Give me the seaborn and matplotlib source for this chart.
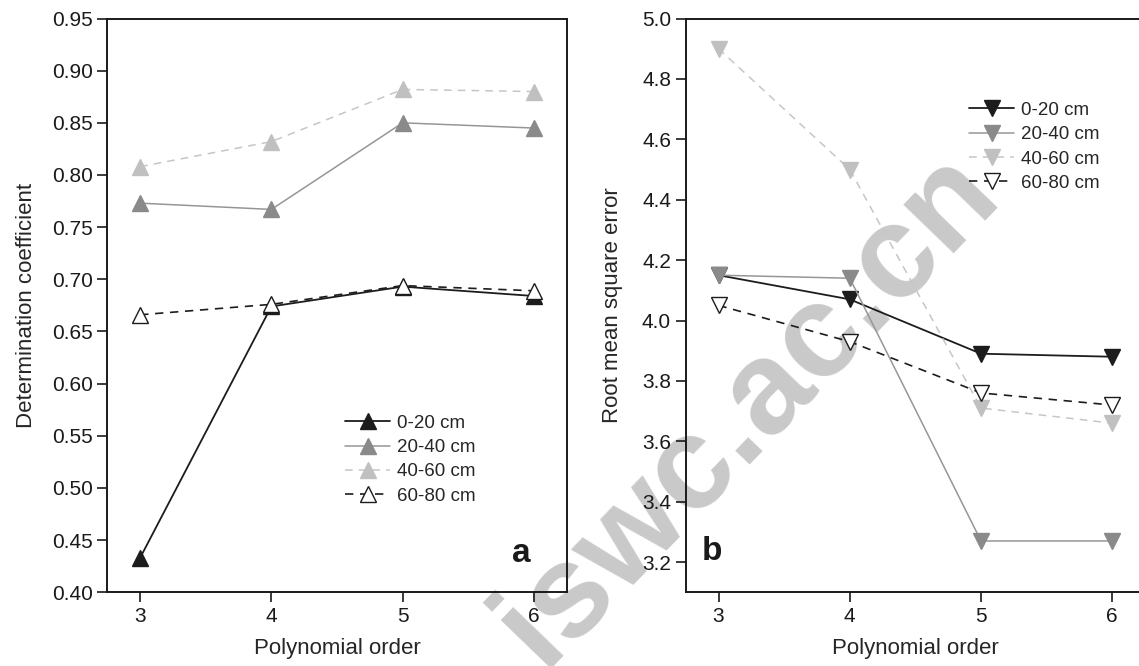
import numpy as np
import pandas as pd
import matplotlib
matplotlib.use('Agg')
import matplotlib.pyplot as plt
import seaborn as sns
from matplotlib.lines import Line2D

# ---- data ----
orders = [3, 4, 5, 6]
layers = ['0-20 cm', '20-40 cm', '40-60 cm', '60-80 cm']
r2_0_20 = [0.433, 0.674, 0.693, 0.684]
r2_20_40 = [0.773, 0.767, 0.850, 0.845]
r2_40_60 = [0.808, 0.832, 0.882, 0.880]
r2_60_80 = [0.666, 0.676, 0.694, 0.689]
rmse_0_20 = [4.15, 4.07, 3.89, 3.88]
rmse_20_40 = [4.15, 4.14, 3.27, 3.27]
rmse_40_60 = [4.90, 4.50, 3.71, 3.66]
rmse_60_80 = [4.05, 3.93, 3.76, 3.72]
x_ticks = [3, 4, 5, 6]
r2_ticks = [0.40, 0.45, 0.50, 0.55, 0.60, 0.65, 0.70, 0.75, 0.80, 0.85, 0.90, 0.95]
rmse_ticks = [3.2, 3.4, 3.6, 3.8, 4.0, 4.2, 4.4, 4.6, 4.8, 5.0]

sns.set_theme(style='ticks')
plt.rcParams['font.family'] = ['Liberation Sans', 'DejaVu Sans']
plt.rcParams['axes.linewidth'] = 1.4

W, H = 1139, 666
fig = plt.figure(figsize=(W / 100, H / 100), dpi=100)
fig.patch.set_facecolor('white')

def px_axes(x0, x1, ytop, ybot):
    return fig.add_axes([x0 / W, 1 - ybot / H, (x1 - x0) / W, (ybot - ytop) / H])

axL = px_axes(107.3, 566.7, 18.5, 592.3)
axR = px_axes(685.7, 1145.1, 18.5, 592.3)

styles = {
    '0-20 cm': dict(color='#1c1c1c', mfc='#1c1c1c', mec='#1c1c1c', ls='-', lw=1.3),
    '20-40 cm': dict(color='#969696', mfc='#8a8a8a', mec='#8a8a8a', ls='-', lw=1.1),
    '40-60 cm': dict(color='#c6c6c6', mfc='#c0c0c0', mec='#c0c0c0', ls=(0, (5, 4)), lw=1.1),
    '60-80 cm': dict(color='#1c1c1c', mfc='white', mec='#1c1c1c', ls=(0, (5, 4)), lw=1.2),
}
MS = 12

def draw(ax, series, marker):
    handles = []
    for name, vals in zip(layers, series):
        st = styles[name]
        df = pd.DataFrame({'order': orders, 'value': vals})
        sns.lineplot(data=df, x='order', y='value', ax=ax, color=st['color'],
                     linestyle=st['ls'], linewidth=st['lw'], marker=marker,
                     markersize=MS, markerfacecolor=st['mfc'],
                     markeredgecolor=st['mec'], markeredgewidth=1.0,
                     legend=False)
        handles.append(Line2D([], [], color=st['color'], linestyle=st['ls'],
                              linewidth=st['lw'], marker=marker, markersize=MS,
                              markerfacecolor=st['mfc'], markeredgecolor=st['mec'],
                              markeredgewidth=1.0))
    return handles

hL = draw(axL, [r2_0_20, r2_20_40, r2_40_60, r2_60_80], '^')
hR = draw(axR, [rmse_0_20, rmse_20_40, rmse_40_60, rmse_60_80], 'v')

for ax in (axL, axR):
    ax.set_facecolor('none')
    ax.set_xlim(2.75, 6.25)
    ax.set_xticks(x_ticks)
    ax.set_xticklabels([str(v) for v in x_ticks])
    ax.set_xlabel('Polynomial order', fontsize=16, labelpad=9)
    ax.tick_params(direction='out', length=7.5, width=1.2, labelsize=15, pad=3,
                   colors='#1a1a1a')
    for s in ax.spines.values():
        s.set_visible(True)
        s.set_color('#1a1a1a')
        s.set_linewidth(1.4)
    ax.grid(False)

axL.set_ylim(0.40, 0.95)
axL.set_yticks(r2_ticks)
axL.set_yticklabels([f'{v:.2f}' for v in r2_ticks])
axL.set_ylabel('Determination coefficient', fontsize=16, labelpad=11)

axR.set_ylim(3.1, 5.0)
axR.set_yticks(rmse_ticks)
axR.set_yticklabels([f'{v:.1f}' for v in rmse_ticks])
axR.set_ylabel('Root mean square error', fontsize=16, labelpad=14)

leg_kw = dict(frameon=False, fontsize=13.5, handlelength=2.4, handletextpad=0.35,
              labelspacing=0.39, borderpad=0, borderaxespad=0, loc='upper left')
fig.legend(hL, layers, bbox_to_anchor=(345 / W, 1 - 414.5 / H), **leg_kw)
fig.legend(hR, layers, bbox_to_anchor=(969 / W, 1 - 101.5 / H), **leg_kw)

fig.text(521.7 / W, 1 - 553 / H, 'a', fontsize=24, fontweight='bold',
         ha='center', va='center', color='#1a1a1a')
fig.text(711.7 / W, 1 - 551 / H, 'b', fontsize=24, fontweight='bold',
         ha='center', va='center', color='#1a1a1a')

# watermark
fig.text(772 / W, 1 - 432 / H, 'iswc.ac.cn', fontsize=95, fontweight='bold',
         color='#c9c9c9', rotation=46, ha='center', va='baseline',
         rotation_mode='anchor', zorder=-1)

fig.savefig('out.png', dpi=100)
